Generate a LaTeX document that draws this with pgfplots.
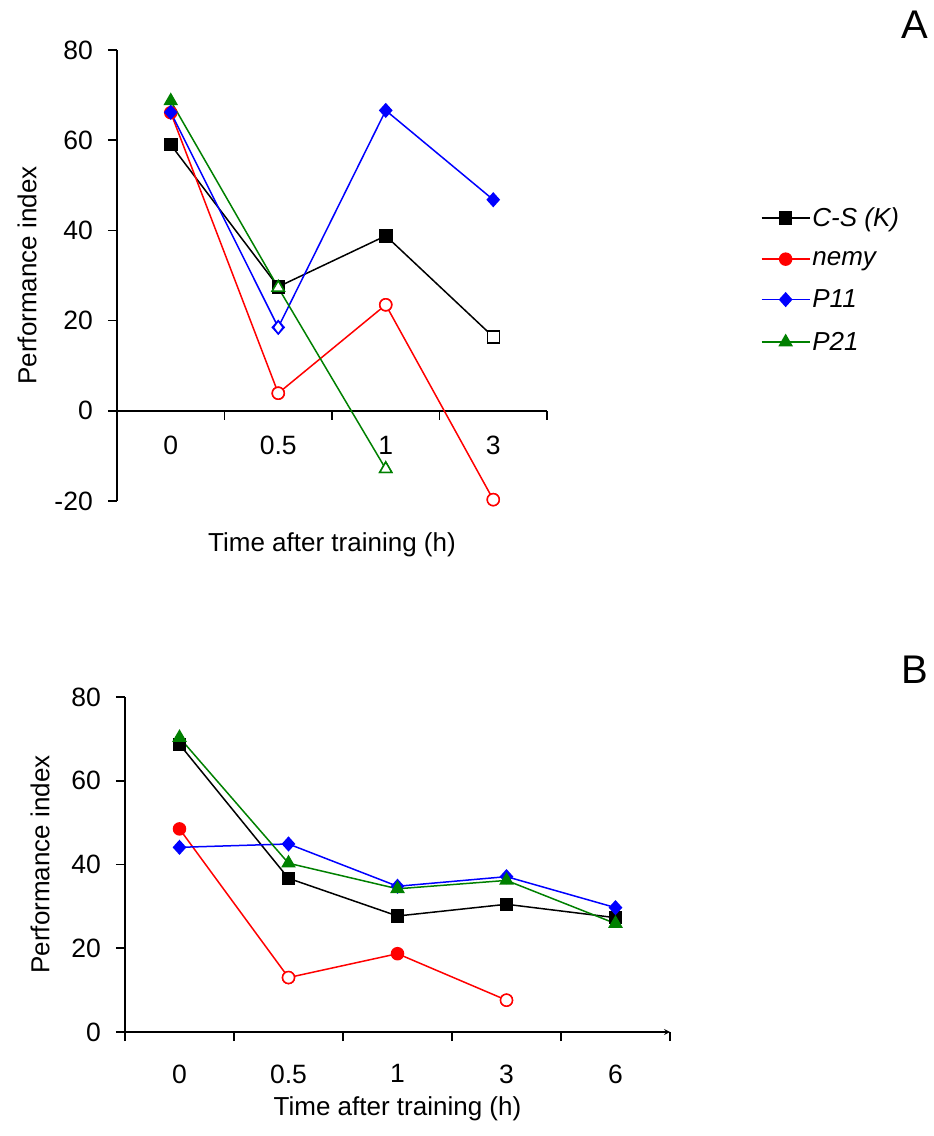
\documentclass[border=0pt]{standalone}
\usepackage{fontspec}
\setmainfont{Liberation Sans}
\usepackage{pgfplots}
\pgfplotsset{compat=1.18}
\definecolor{pgreen}{RGB}{0,128,0}

\pgfplotsset{
  panel/.style={
    scale only axis,
    axis y line=left,
    clip=false,
    major tick length=9pt,
    minor tick length=9pt,
    axis line style={-, line width=1.6pt},
    every tick/.append style={black, line width=1.6pt},
    major x tick style={draw=none},
    /pgf/number format/assume math mode=true,
    tick label style={font=\fontsize{26.5}{30}\selectfont},
    yticklabel style={inner sep=2pt, xshift=-13pt},
    hide obscured x ticks=false,
    hide obscured y ticks=false,
    every axis plot/.append style={line width=1.5pt},
    legend image code/.code={
      \draw[mark repeat=2, mark phase=2, #1] plot coordinates {(0pt,0pt) (24pt,0pt) (48pt,0pt)};
    },
  },
  cs/.style={black, mark=square*, mark size=6pt},
  nm/.style={red, mark=*, mark size=6pt},
  pa/.style={blue, mark=diamond*, mark size=6.5pt, mark options={xscale=1.2}},
  pb/.style={pgreen, mark=triangle*, mark size=7pt},
  hollow/.style={only marks, forget plot, mark options={fill=white}},
}

\begin{document}
\begin{tikzpicture}[x=1pt, y=1pt]
\useasboundingbox (0,0) rectangle (934,1136);

% panel A
\begin{axis}[
  panel,
  at={(117pt,635pt)}, anchor=south west,
  width=430pt, height=451pt,
  axis x line=middle,
  tick align=outside,
  x axis line style={-},
  every inner x axis line/.append style={-},
  xmin=-0.5, xmax=3.5,
  ymin=-20, ymax=80,
  ytick={-20,0,20,40,60,80},
  xtick={0,1,2,3},
  xticklabels={0,0.5,1,3},
  minor xtick={-0.5,0.5,1.5,2.5,3.5},
  xticklabel style={yshift=-13pt},
  xlabel={Time after training (h)},
  xlabel style={at={(axis description cs:0.5,0)}, anchor=north, yshift=-28pt,
    font=\fontsize{26}{30}\selectfont},
  ylabel={Performance index},
  ylabel style={at={(axis description cs:-0.209,0.5)}, anchor=center,
    font=\fontsize{26}{30}\selectfont},
  legend style={draw=none, fill=none, at={(1.49,0.49)}, anchor=west,
    font=\fontsize{26}{30}\selectfont\itshape, row sep=19pt,
    nodes={inner sep=2pt},
    /tikz/every even column/.append style={column sep=6pt}},
  legend cell align=left,
]
\addplot[cs] coordinates {(0,59.0) (1,27.5) (2,38.8) (3,16.4)};
\addlegendentry{C-S (K)}
\addplot[cs, hollow] coordinates {(3,16.4)};
\addplot[nm] coordinates {(0,66.1) (1,3.9) (2,23.5) (3,-19.7)};
\addlegendentry{nemy}
\addplot[nm, hollow] coordinates {(1,3.9) (2,23.5) (3,-19.7)};
\addplot[pa] coordinates {(0,66.2) (1,18.5) (2,66.6) (3,46.8)};
\addlegendentry{P11}
\addplot[pa, hollow] coordinates {(1,18.5)};
\addplot[pb] coordinates {(0,68.7) (1,27.3) (2,-12.9)};
\addlegendentry{P21}
\addplot[pb, hollow] coordinates {(1,27.3) (2,-12.9)};
\end{axis}

% panel B
\begin{axis}[
  panel,
  at={(125pt,104pt)}, anchor=south west,
  width=545pt, height=335pt,
  axis x line=bottom,
  tick align=outside,
  xmin=-0.5, xmax=4.5,
  ymin=0, ymax=80,
  ytick={0,20,40,60,80},
  xtick={0,1,2,3,4},
  xticklabels={0,0.5,1,3,6},
  minor xtick={-0.5,0.5,1.5,2.5,3.5,4.5},
  xticklabel style={yshift=-20pt},
  xlabel={Time after training (h)},
  xlabel style={at={(axis description cs:0.5,0)}, anchor=north, yshift=-61pt,
    font=\fontsize{26}{30}\selectfont},
  ylabel={Performance index},
  ylabel style={at={(axis description cs:-0.156,0.5)}, anchor=center,
    font=\fontsize{26}{30}\selectfont},
]
\addplot[cs] coordinates {(0,68.7) (1,36.7) (2,27.7) (3,30.5) (4,27.3)};
\addplot[nm] coordinates {(0,48.5) (1,13.0) (2,18.7) (3,7.6)};
\addplot[nm, hollow] coordinates {(1,13.0) (3,7.6)};
\addplot[pa] coordinates {(0,44.1) (1,44.9) (2,34.8) (3,37.1) (4,29.7)};
\addplot[pb] coordinates {(0,70.3) (1,40.3) (2,34.2) (3,36.2) (4,25.9)};
\end{axis}

\node[font=\fontsize{40}{44}\selectfont] at (915,1111) {A};
\node[font=\fontsize{40}{44}\selectfont] at (915,466) {B};
\end{tikzpicture}
\end{document}
